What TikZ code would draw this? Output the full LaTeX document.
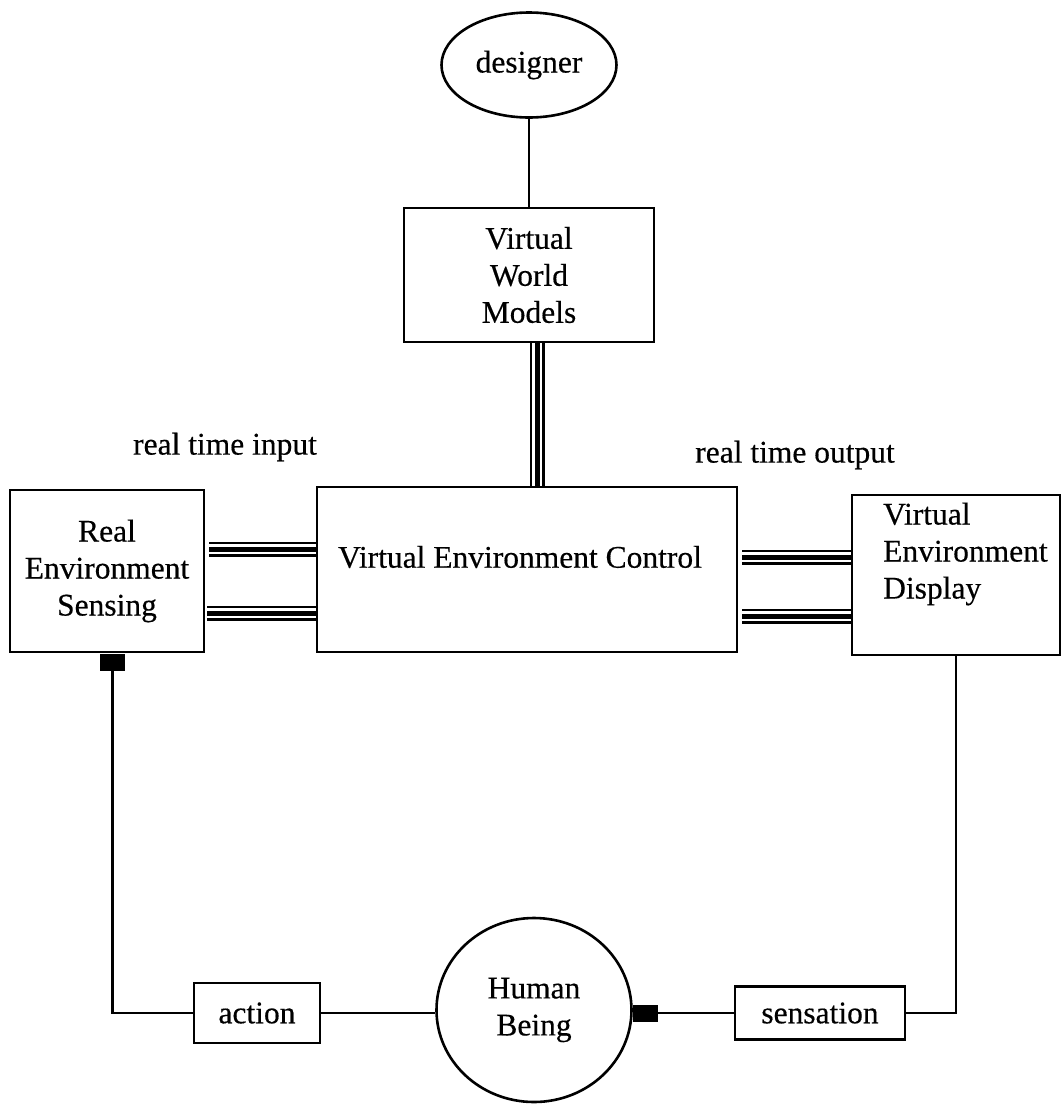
\documentclass[tikz,border=0pt]{standalone}
\usepackage{fontspec}
\setmainfont[FakeBold=0.4]{Liberation Serif}
\usetikzlibrary{shapes.geometric}
\begin{document}
\begin{tikzpicture}[x=1pt,y=-1pt,
  every node/.style={font=\fontsize{31.5}{37}\selectfont},
  box/.style={draw, line width=2.8pt, inner sep=0pt, align=center},
  oval/.style={ellipse, draw, line width=2.6pt, inner sep=0pt, align=center},
  link/.style={line width=2.3pt},
  triple/.style={line width=15pt,
    postaction={draw=white, line width=10pt},
    postaction={draw=black, line width=5pt}},
  plug/.style={fill=black, inner sep=0pt, minimum width=25pt, minimum height=17pt},
  lbl/.style={inner sep=0pt, align=center}]
\useasboundingbox (0,0) rectangle (1062,1104);

% top: designer and the world models
\node[oval, minimum width=175pt, minimum height=105pt] (designer) at (529,65) {designer};
\node[box, minimum width=250pt, minimum height=134pt] (vwm) at (529,275) {Virtual\\World\\Models};

% middle row
\node[box, minimum width=194pt, minimum height=162pt] (res) at (107,571) {Real\\Environment\\Sensing};
\node[box, minimum width=420pt, minimum height=165pt] (vec) at (527,569.5) {};
\node[lbl] (vectext) at (520,557) {Virtual Environment Control};
\node[box, minimum width=208pt, minimum height=160pt] (ved) at (956,575) {};
\node[lbl, anchor=west, align=left] (vedtext) at (883,554) {Virtual\\Environment\\Display};

\node[lbl] (inlbl) at (225,447) {real time input};
\node[lbl] (outlbl) at (795,455) {real time output};

% bottom row
\node[box, minimum width=126pt, minimum height=60pt] (action) at (257,1013) {action};
\node[oval, minimum width=195pt, minimum height=184pt] (human) at (534,1010) {Human\\Being};
\node[box, minimum width=170pt, minimum height=53pt] (sens) at (820,1013) {sensation};

% connectors
\draw[link] (designer.south) -- (vwm.north);
\coordinate (vtop) at ([xshift=8pt]vwm.south);
\draw[triple] (vtop) -- (vtop |- vec.north);

\coordinate (yA) at (0,549);
\coordinate (yB) at (0,613);
\coordinate (yC) at (0,557);
\coordinate (yD) at (0,616);
\draw[triple] ([xshift=4pt]res.east |- yA) -- (vec.west |- yA);
\draw[triple] ([xshift=2pt]res.east |- yB) -- (vec.west |- yB);
\draw[triple] ([xshift=4pt]vec.east |- yC) -- (ved.west |- yC);
\draw[triple] ([xshift=4pt]vec.east |- yD) -- (ved.west |- yD);

\node[plug, anchor=north] (sq1) at ([xshift=5.5pt]res.south) {};
\draw[link] (sq1.south) |- (action.west);
\draw[link] (action.east) -- (action.east -| human.west);
\node[plug, anchor=west] (sq2) at (human.east |- action.east) {};
\draw[link] (sq2.east) -- (sens.west);
\draw[link] (sens.east) -| (ved.south);
\end{tikzpicture}
\end{document}
